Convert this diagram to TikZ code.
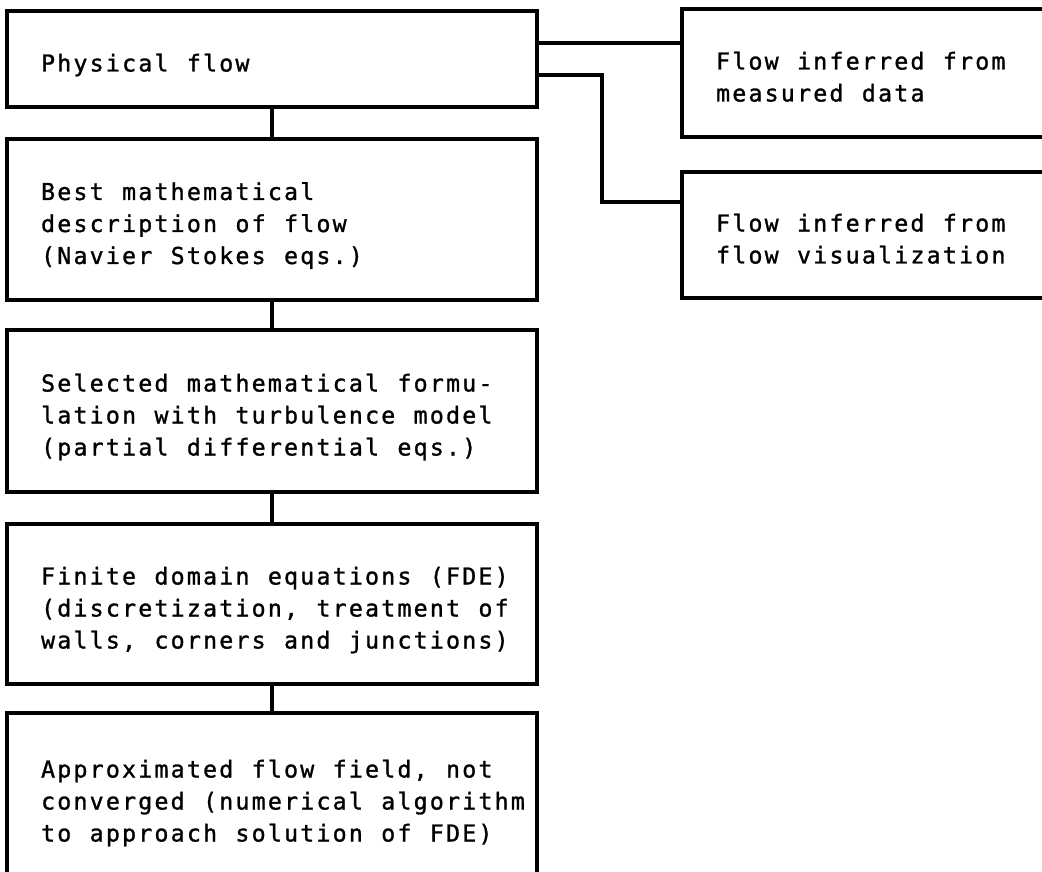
\documentclass[tikz,border=0pt]{standalone}
\usepackage{fontspec}
\newfontfamily\plotfont[FakeBold=1.2]{DejaVu Sans Mono}
\usetikzlibrary{calc}
\ExplSyntaxOn
\NewDocumentCommand\plotline{m}{ \mbox{ \str_map_inline:nn {#1} { \makebox[16.2pt][c]{##1} } } }
\ExplSyntaxOff
\begin{document}
\begin{tikzpicture}[x=1pt,y=-1pt,
  box/.style={draw=black, line width=3.3pt, rectangle, inner xsep=33pt, inner ysep=0pt,
    align=left, font={\plotfont\fontsize{23.3pt}{32pt}\selectfont},
    execute at begin node={\rule{0pt}{31pt}},
    execute at end node={\rule[-6pt]{0pt}{0pt}}},
  leftbox/.style={box, minimum width=530pt, text width=464pt},
  rightbox/.style={box, minimum width=380pt, text width=314pt},
  conn/.style={draw=black, line width=3.3pt}]
\useasboundingbox (0,0) rectangle (1042,872);
\clip (0,0) rectangle (1042,872);
\node[leftbox, minimum height=96pt] (b1) at (272,59) {\plotline{Physical flow}};
\node[leftbox, minimum height=161pt] (b2) at (272,219.5) {\plotline{Best mathematical}\\\plotline{description of flow}\\\plotline{(Navier Stokes eqs.)}};
\node[leftbox, minimum height=162pt] (b3) at (272,411) {\plotline{Selected mathematical formu-}\\\plotline{lation with turbulence model}\\\plotline{(partial differential eqs.)}};
\node[leftbox, minimum height=160pt] (b4) at (272,604) {\plotline{Finite domain equations (FDE)}\\\plotline{(discretization, treatment of}\\\plotline{walls, corners and junctions)}};
\node[leftbox, minimum height=168pt] (b5) at (272,797) {\plotline{Approximated flow field, not}\\\plotline{converged (numerical algorithm}\\\plotline{to approach solution of FDE)}};
\node[rightbox, minimum height=128pt] (A) at (872,73) {\plotline{Flow inferred from}\\\plotline{measured data}};
\node[rightbox, minimum height=126pt] (B) at (872,235) {\plotline{Flow inferred from}\\\plotline{flow visualization}};
\draw[conn] (b1.south) -- (b2.north);
\draw[conn] (b2.south) -- (b3.north);
\draw[conn] (b3.south) -- (b4.north);
\draw[conn] (b4.south) -- (b5.north);
\coordinate (b1hi) at ([yshift=16pt]b1.east);
\coordinate (b1lo) at ([yshift=-16pt]b1.east);
\coordinate (bin) at ([yshift=33pt]B.west);
\coordinate (j) at (602,0);
\draw[conn] (b1hi) -- (b1hi -| A.west);
\draw[conn] (b1lo) -- (b1lo -| j) -- (j |- bin) -- (bin);
\end{tikzpicture}
\end{document}
